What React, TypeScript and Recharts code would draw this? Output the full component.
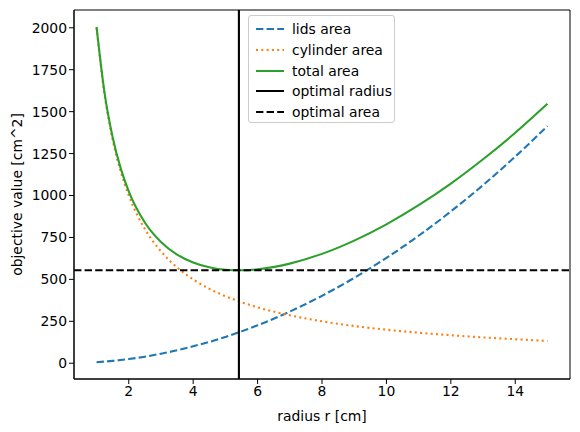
import React from 'react'
import {
  LineChart,
  Line,
  XAxis,
  YAxis,
  ReferenceLine,
  ReferenceArea,
} from 'recharts'

const radius = [1, 1.25, 1.5, 1.75, 2, 2.5, 3, 3.5, 4, 4.5, 5, 5.5, 6, 7, 8, 9, 10, 11, 12, 13, 14, 15]
const lidsArea = [6, 10, 14, 19, 25, 39, 57, 77, 101, 127, 157, 190, 226, 308, 402, 509, 628, 760, 905, 1062, 1232, 1414]
const cylinderArea = [2000, 1600, 1333, 1143, 1000, 800, 667, 571, 500, 444, 400, 364, 333, 286, 250, 222, 200, 182, 167, 154, 143, 133]
const totalArea = [2006, 1610, 1347, 1162, 1025, 839, 723, 648, 601, 572, 557, 554, 560, 594, 652, 731, 828, 942, 1071, 1216, 1374, 1547]

const optimalRadius = 5.42
const optimalArea = 554

const xTicks = [2, 4, 6, 8, 10, 12, 14]
const yTicks = [0, 250, 500, 750, 1000, 1250, 1500, 1750, 2000]

const legendItems = [
  { label: 'lids area', color: '#1f77b4', dash: '7.4 3.2' },
  { label: 'cylinder area', color: '#ff7f0e', dash: '2 3.3' },
  { label: 'total area', color: '#2ca02c', dash: '' },
  { label: 'optimal radius', color: '#000', dash: '' },
  { label: 'optimal area', color: '#000', dash: '7.4 3.2' },
]

const data = radius.map((r, i) => ({
  r,
  lids: lidsArea[i],
  cylinder: cylinderArea[i],
  total: totalArea[i],
}))

const FONT = 'DejaVu Sans, sans-serif'
const tickStyle = { fill: '#000', fontSize: 13.9, fontFamily: FONT }

function LegendBox() {
  return (
    <div
      style={{
        position: 'absolute',
        left: 248,
        top: 15,
        width: 147,
        height: 108,
        border: '1px solid #ccc',
        borderRadius: 3,
        background: 'rgba(255,255,255,0.8)',
        fontFamily: FONT,
        fontSize: 13.9,
        color: '#000',
        boxSizing: 'border-box',
        paddingTop: 3,
      }}
    >
      {legendItems.map((it) => (
        <div key={it.label} style={{ display: 'flex', alignItems: 'center', height: 20.7 }}>
          <svg width={44} height={10} style={{ marginLeft: 6 }}>
            <line x1={1} y1={5} x2={29} y2={5} stroke={it.color} strokeWidth={2} strokeDasharray={it.dash || undefined} />
          </svg>
          <span style={{ marginLeft: -7 }}>{it.label}</span>
        </div>
      ))}
    </div>
  )
}

export default function App() {
  return (
    <div style={{ position: 'absolute', left: 0, top: 0, width: 580, height: 432, background: '#fff' }}>
      <LineChart width={580} height={432} data={data} margin={{ top: 10, right: 10, bottom: 0, left: 0 }}>
        <XAxis
          dataKey="r"
          type="number"
          domain={[0.3, 15.7]}
          ticks={xTicks}
          allowDataOverflow
          height={53}
          tick={tickStyle}
          tickLine={{ stroke: '#000' }}
          tickSize={5}
          axisLine={{ stroke: '#000' }}
          label={{ value: 'radius r [cm]', position: 'insideBottom', offset: 11, style: { ...tickStyle, textAnchor: 'middle' } }}
        />
        <YAxis
          type="number"
          domain={[-94, 2106]}
          ticks={yTicks}
          allowDataOverflow
          width={74}
          tick={tickStyle}
          tickLine={{ stroke: '#000' }}
          tickSize={5}
          axisLine={{ stroke: '#000' }}
          label={{ value: 'objective value [cm^2]', angle: -90, position: 'insideLeft', offset: 17, style: { ...tickStyle, textAnchor: 'middle' } }}
        />
        <ReferenceArea x1={0.3} x2={15.7} y1={-94} y2={2106} fill="none" stroke="#000" strokeWidth={1} />
        <Line type="monotone" dataKey="lids" stroke="#1f77b4" strokeWidth={2.1} strokeDasharray="7.4 3.2" dot={false} isAnimationActive={false} />
        <Line type="monotone" dataKey="cylinder" stroke="#ff7f0e" strokeWidth={2.1} strokeDasharray="2 3.3" dot={false} isAnimationActive={false} />
        <Line type="monotone" dataKey="total" stroke="#2ca02c" strokeWidth={2.1} dot={false} isAnimationActive={false} />
        <ReferenceLine x={optimalRadius} stroke="#000" strokeWidth={2.1} />
        <ReferenceLine y={optimalArea} stroke="#000" strokeWidth={2.1} strokeDasharray="7.4 3.2" />
      </LineChart>
      <LegendBox />
    </div>
  )
}
